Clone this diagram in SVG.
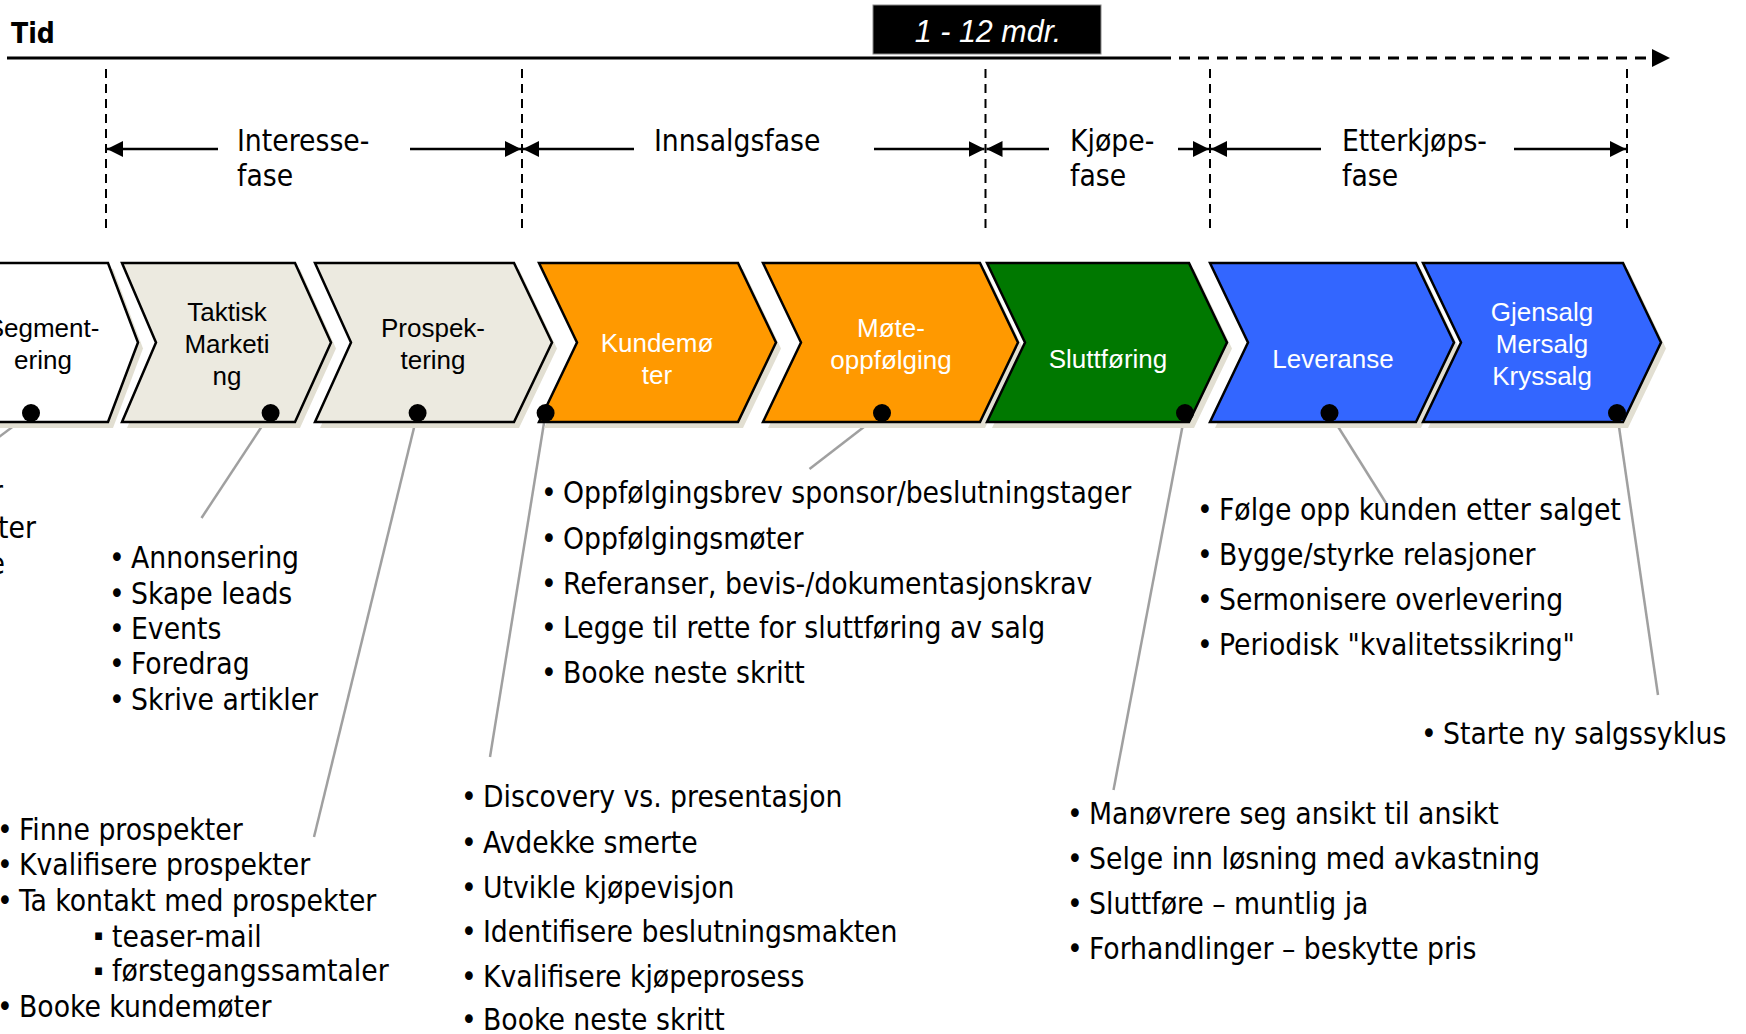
<svg xmlns="http://www.w3.org/2000/svg" width="1746" height="1034" viewBox="0 0 1746 1034">
<style>
.lst{font-family:"DejaVu Sans Condensed","DejaVu Sans",sans-serif;font-stretch:condensed;font-size:29.7px;fill:#000}
.ph{font-family:"DejaVu Sans Condensed","DejaVu Sans",sans-serif;font-stretch:condensed;font-size:29.7px;fill:#000}
.cl{font-family:"Liberation Sans",Arial,sans-serif;font-size:26px;text-anchor:middle}
.dk{fill:#000}.wt{fill:#fff}
.chev{stroke:#000;stroke-width:2.5;stroke-linejoin:miter}
.shd{fill:#E2DFD2}
.dot{fill:#000}
.lead{stroke:#A0A0A0;stroke-width:2.5;fill:none}
.vd{stroke:#000;stroke-width:2;stroke-dasharray:9 6;fill:none}
.pa{stroke:#000;stroke-width:2.5;fill:none;marker-end:url(#ah)}
.sq{font-size:15px}
</style>
<defs>
<marker id="ah" markerUnits="userSpaceOnUse" markerWidth="16" markerHeight="16" viewBox="0 0 16 16" refX="16" refY="8" orient="auto"><path d="M0,0 L16,8 L0,16 z" fill="#000"/></marker>
<marker id="ah2" markerUnits="userSpaceOnUse" markerWidth="18" markerHeight="18" viewBox="0 0 18 18" refX="18" refY="9" orient="auto"><path d="M0,0 L18,9 L0,18 z" fill="#000"/></marker>
</defs>
<rect width="1746" height="1034" fill="#fff"/>

<g id="timeline">
<text x="11" y="43" style="font-family:'DejaVu Sans Condensed','DejaVu Sans',sans-serif;font-stretch:condensed;font-weight:bold;font-size:28px">Tid</text>
<line x1="7" y1="58" x2="1160" y2="58" stroke="#000" stroke-width="3"/>
<line x1="1160" y1="58" x2="1670" y2="58" stroke="#000" stroke-width="3" stroke-dasharray="11 8" marker-end="url(#ah2)"/>
<rect x="873" y="5" width="228" height="49" fill="#000" stroke="#888" stroke-width="1"/>
<text x="988" y="42" text-anchor="middle" style="font-family:'Liberation Sans',Arial,sans-serif;font-style:italic;font-size:30.5px;fill:#fff">1 - 12 mdr.</text>
</g>

<g id="phases">
<line class="vd" x1="106" y1="69" x2="106" y2="230"/>
<line class="vd" x1="522" y1="69" x2="522" y2="230"/>
<line class="vd" x1="985.5" y1="69" x2="985.5" y2="230"/>
<line class="vd" x1="1210" y1="69" x2="1210" y2="230"/>
<line class="vd" x1="1627" y1="69" x2="1627" y2="230"/>
<line class="pa" x1="218" y1="149" x2="107" y2="149"/>
<line class="pa" x1="410" y1="149" x2="521" y2="149"/>
<text class="ph" x="237" y="151">Interesse-</text>
<text class="ph" x="237" y="186">fase</text>
<line class="pa" x1="634" y1="149" x2="523" y2="149"/>
<line class="pa" x1="874" y1="149" x2="984.5" y2="149"/>
<text class="ph" x="654" y="151">Innsalgsfase</text>
<line class="pa" x1="1049" y1="149" x2="986.5" y2="149"/>
<line class="pa" x1="1178" y1="149" x2="1209" y2="149"/>
<text class="ph" x="1070" y="151">Kjøpe-</text>
<text class="ph" x="1070" y="186">fase</text>
<line class="pa" x1="1321" y1="149" x2="1211" y2="149"/>
<line class="pa" x1="1514" y1="149" x2="1626" y2="149"/>
<text class="ph" x="1342" y="151">Etterkjøps-</text>
<text class="ph" x="1342" y="186">fase</text>
</g>

<g id="connectors">
<line class="lead" x1="31" y1="413" x2="-5" y2="440"/>
<line class="lead" x1="270.6" y1="413" x2="201.5" y2="518"/>
<line class="lead" x1="417.6" y1="413" x2="314" y2="837"/>
<line class="lead" x1="545.6" y1="413" x2="490" y2="757"/>
<line class="lead" x1="882" y1="413" x2="809.5" y2="469"/>
<line class="lead" x1="1185" y1="413" x2="1113.5" y2="790"/>
<line class="lead" x1="1329.5" y1="413" x2="1386" y2="503"/>
<line class="lead" x1="1617" y1="413" x2="1658" y2="695"/>
</g>

<g id="node-segmentering">
<polygon class="shd" points="-55,269 113,269 143,348.5 113,428 -55,428"/>
<polygon class="chev" fill="#fff" points="-60,263 108,263 138,342.5 108,422 -60,422"/>
<text class="cl dk" x="43" y="337">Segment-</text>
<text class="cl dk" x="43" y="369">ering</text>
<circle class="dot" cx="31" cy="413" r="9"/>
</g>

<g id="node-taktisk">
<polygon class="shd" points="127,269 300,269 336,348.5 300,428 127,428 161,348.5"/>
<polygon class="chev" fill="#ECEAE0" points="122,263 295,263 331,342.5 295,422 122,422 156,342.5"/>
<text class="cl dk" x="227" y="321">Taktisk</text>
<text class="cl dk" x="227" y="353">Marketi</text>
<text class="cl dk" x="227" y="385">ng</text>
<circle class="dot" cx="270.6" cy="413" r="9"/>
</g>

<g id="node-prospektering">
<polygon class="shd" points="320,269 519,269 557,348.5 519,428 320,428 356,348.5"/>
<polygon class="chev" fill="#ECEAE0" points="315,263 514,263 552,342.5 514,422 315,422 351,342.5"/>
<text class="cl dk" x="433" y="337">Prospek-</text>
<text class="cl dk" x="433" y="369">tering</text>
<circle class="dot" cx="417.6" cy="413" r="9"/>
</g>

<g id="node-kundemoter">
<polygon class="shd" points="544,269 743,269 781,348.5 743,428 544,428 582,348.5"/>
<polygon class="chev" fill="#FF9900" points="539,263 738,263 776,342.5 738,422 539,422 577,342.5"/>
<text class="cl wt" x="657" y="352">Kundemø</text>
<text class="cl wt" x="657" y="384">ter</text>
<circle class="dot" cx="545.6" cy="413" r="9"/>
</g>

<g id="node-moteoppfolging">
<polygon class="shd" points="768,269 985,269 1023,348.5 985,428 768,428 806,348.5"/>
<polygon class="chev" fill="#FF9900" points="763,263 980,263 1018,342.5 980,422 763,422 801,342.5"/>
<text class="cl wt" x="891" y="337">Møte-</text>
<text class="cl wt" x="891" y="369">oppfølging</text>
<circle class="dot" cx="882" cy="413" r="9"/>
</g>

<g id="node-sluttforing">
<polygon class="shd" points="992,269 1194,269 1232,348.5 1194,428 992,428 1030,348.5"/>
<polygon class="chev" fill="#007800" points="987,263 1189,263 1227,342.5 1189,422 987,422 1025,342.5"/>
<text class="cl wt" x="1108" y="368">Sluttføring</text>
<circle class="dot" cx="1185" cy="413" r="9"/>
</g>

<g id="node-leveranse">
<polygon class="shd" points="1215,269 1421,269 1459,348.5 1421,428 1215,428 1253,348.5"/>
<polygon class="chev" fill="#3366FF" points="1210,263 1416,263 1454,342.5 1416,422 1210,422 1248,342.5"/>
<text class="cl wt" x="1333" y="368">Leveranse</text>
<circle class="dot" cx="1329.5" cy="413" r="9"/>
</g>

<g id="node-gjensalg">
<polygon class="shd" points="1428,269 1628,269 1666,348.5 1628,428 1428,428 1466,348.5"/>
<polygon class="chev" fill="#3366FF" points="1423,263 1623,263 1661,342.5 1623,422 1423,422 1461,342.5"/>
<text class="cl wt" x="1542" y="321">Gjensalg</text>
<text class="cl wt" x="1542" y="353">Mersalg</text>
<text class="cl wt" x="1542" y="385">Kryssalg</text>
<circle class="dot" cx="1617" cy="413" r="9"/>
</g>

<g id="list-segmentering">
<text class="lst" x="3" y="502" text-anchor="end">r</text>
<text class="lst" x="36" y="538" text-anchor="end">ter</text>
<text class="lst" x="5" y="574" text-anchor="end">e</text>
</g>

<g id="list-taktisk">
<text class="lst" x="109" y="568">•<tspan x="131">Annonsering</tspan></text>
<text class="lst" x="109" y="603.5">•<tspan x="131">Skape leads</tspan></text>
<text class="lst" x="109" y="639">•<tspan x="131">Events</tspan></text>
<text class="lst" x="109" y="674">•<tspan x="131">Foredrag</tspan></text>
<text class="lst" x="109" y="709.5">•<tspan x="131">Skrive artikler</tspan></text>
</g>

<g id="list-prospektering">
<text class="lst" x="-3" y="839.5">•<tspan x="19">Finne prospekter</tspan></text>
<text class="lst" x="-3" y="875">•<tspan x="19">Kvalifisere prospekter</tspan></text>
<text class="lst" x="-3" y="911">•<tspan x="19">Ta kontakt med prospekter</tspan></text>
<text class="lst" x="94" y="940"><tspan class="sq">▪</tspan><tspan x="112" y="946.5">teaser-mail</tspan></text>
<text class="lst" x="94" y="974.5"><tspan class="sq">▪</tspan><tspan x="112" y="981">førstegangssamtaler</tspan></text>
<text class="lst" x="-3" y="1016.5">•<tspan x="19">Booke kundemøter</tspan></text>
</g>

<g id="list-kundemoter">
<text class="lst" x="461" y="807">•<tspan x="483">Discovery vs. presentasjon</tspan></text>
<text class="lst" x="461" y="853">•<tspan x="483">Avdekke smerte</tspan></text>
<text class="lst" x="461" y="897.5">•<tspan x="483">Utvikle kjøpevisjon</tspan></text>
<text class="lst" x="461" y="942">•<tspan x="483">Identifisere beslutningsmakten</tspan></text>
<text class="lst" x="461" y="986.5">•<tspan x="483">Kvalifisere kjøpeprosess</tspan></text>
<text class="lst" x="461" y="1030">•<tspan x="483">Booke neste skritt</tspan></text>
</g>

<g id="list-moteoppfolging">
<text class="lst" x="541" y="503">•<tspan x="563">Oppfølgingsbrev sponsor/beslutningstager</tspan></text>
<text class="lst" x="541" y="549">•<tspan x="563">Oppfølgingsmøter</tspan></text>
<text class="lst" x="541" y="593.5">•<tspan x="563">Referanser, bevis-/dokumentasjonskrav</tspan></text>
<text class="lst" x="541" y="638">•<tspan x="563">Legge til rette for sluttføring av salg</tspan></text>
<text class="lst" x="541" y="682.5">•<tspan x="563">Booke neste skritt</tspan></text>
</g>

<g id="list-sluttforing">
<text class="lst" x="1067" y="824">•<tspan x="1089">Manøvrere seg ansikt til ansikt</tspan></text>
<text class="lst" x="1067" y="868.5">•<tspan x="1089">Selge inn løsning med avkastning</tspan></text>
<text class="lst" x="1067" y="914">•<tspan x="1089">Sluttføre – muntlig ja</tspan></text>
<text class="lst" x="1067" y="958.5">•<tspan x="1089">Forhandlinger – beskytte pris</tspan></text>
</g>

<g id="list-leveranse">
<text class="lst" x="1197" y="520">•<tspan x="1219">Følge opp kunden etter salget</tspan></text>
<text class="lst" x="1197" y="564.5">•<tspan x="1219">Bygge/styrke relasjoner</tspan></text>
<text class="lst" x="1197" y="610">•<tspan x="1219">Sermonisere overlevering</tspan></text>
<text class="lst" x="1197" y="654.5">•<tspan x="1219">Periodisk "kvalitetssikring"</tspan></text>
</g>

<g id="list-gjensalg">
<text class="lst" x="1421" y="744">•<tspan x="1443">Starte ny salgssyklus</tspan></text>
</g>
</svg>
